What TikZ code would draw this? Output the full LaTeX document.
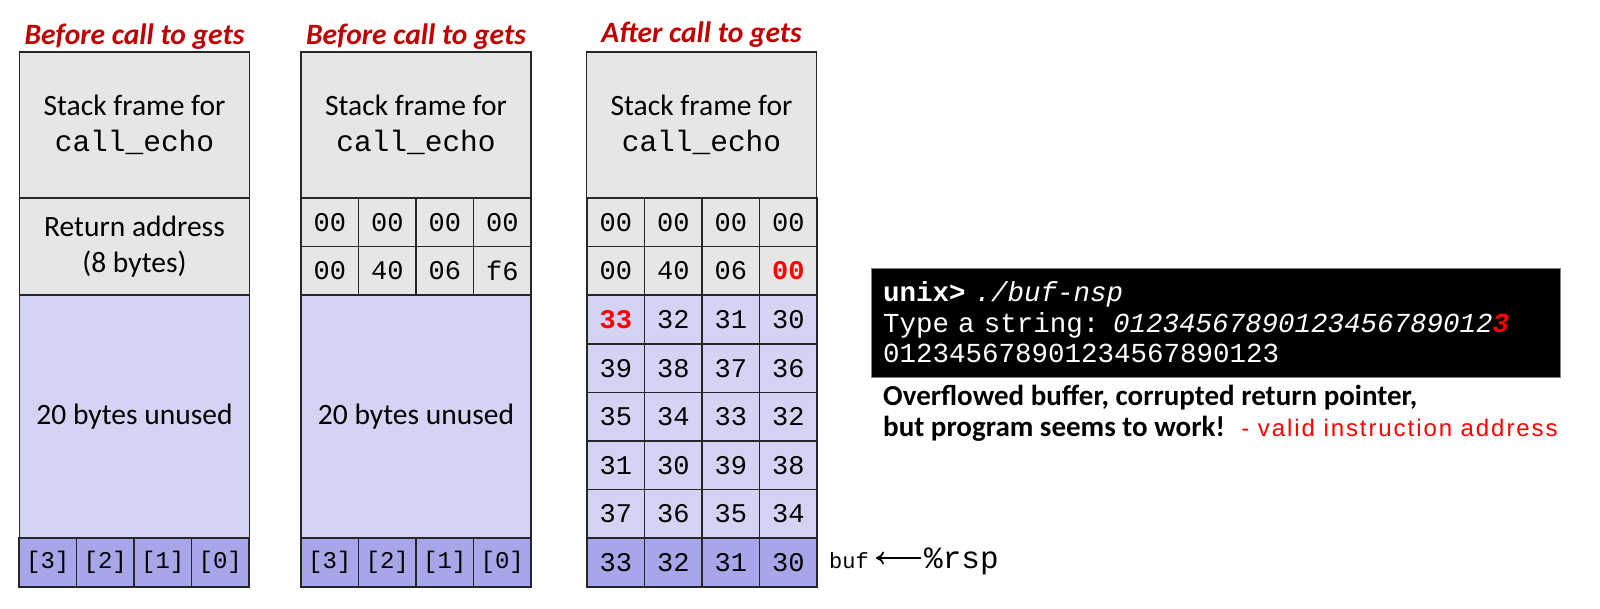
\documentclass[tikz,border=0pt]{standalone}
\usepackage{fontspec}
\setmainfont{Carlito}
\newfontfamily\codefont{Liberation Mono}
\newfontfamily\handfont[LetterSpace=8]{Liberation Sans}
\usetikzlibrary{arrows,arrows.meta,positioning}

\definecolor{framegray}{RGB}{230,230,230}
\definecolor{bufblue}{RGB}{211,211,244}
\definecolor{bufdark}{RGB}{166,166,232}
\definecolor{titlered}{RGB}{192,0,0}
\definecolor{hotred}{RGB}{255,0,0}
\newcommand{\hotbyte}[1]{\textcolor{hotred}{\bfseries #1}}

\begin{document}
\begin{tikzpicture}[x=1pt, y=-1pt, >={To[length=8pt,width=13pt]}]
\tikzstyle{heading}=[font=\fontsize{29.5}{34}\selectfont\bfseries\itshape, text=titlered, anchor=base, inner sep=0pt]
\tikzstyle{framebox}=[draw=black!85, line width=1.7pt, fill=framegray, minimum width=230pt, align=center, inner sep=0pt, font=\fontsize{29.5}{36}\selectfont]
\tikzstyle{unused}=[framebox, fill=bufblue, minimum height=243pt]
\tikzstyle{slot}=[draw=black!85, line width=1.7pt, minimum width=57.5pt, minimum height=48.6pt, inner sep=0pt, font=\codefont\fontsize{27}{30}\selectfont]
\tikzstyle{indexslot}=[slot, fill=bufdark, font=\codefont\fontsize{24}{26}\selectfont]
\tikzstyle{terminal}=[fill=black, draw=gray, line width=1pt, text=white, font=\codefont\fontsize{27.5}{30.5}\selectfont, align=left, text width=665pt, minimum height=109pt, inner sep=12pt]
\tikzstyle{remark}=[font=\fontsize{29}{31}\selectfont\bfseries, anchor=base west, inner sep=0pt]
\tikzstyle{handnote}=[font=\handfont\fontsize{24}{26}\selectfont, text=hotred, inner sep=0pt]
\useasboundingbox (0,0) rectangle (1600,608);

% before gets: plain frame
\node[heading] (head1) at (134.5,44) {Before call to gets};
\node[framebox, minimum height=146pt] (frame1) at (134.5,125) {Stack frame for\\{\codefont call\_echo}};
\node[framebox, minimum height=97.2pt] (ret1) at (134.5,246.6) {Return address\\(8 bytes)};
\node[unused] (free1) at (134.5,416.7) {20 bytes unused};
\foreach \i/\t in {0/3,1/2,2/1,3/0}
  \node[indexslot] (buf1\i) at ({19+28.75+57.5*\i},562.5) {[\t]};

% before gets: return address bytes
\node[heading] (head2) at (416,44) {Before call to gets};
\node[framebox, minimum height=146pt] (frame2) at (416,125) {Stack frame for\\{\codefont call\_echo}};
\foreach \r/\vals in {0/{00,00,00,00}, 1/{00,40,06,f6}}
  \foreach \v [count=\c from 0] in \vals
    \node[slot, fill=framegray] (ret2\r\c) at ({301+28.75+57.5*\c},{222.3+48.6*\r}) {\v};
\node[unused] (free2) at (416,416.7) {20 bytes unused};
\foreach \i/\t in {0/3,1/2,2/1,3/0}
  \node[indexslot] (buf2\i) at ({301+28.75+57.5*\i},562.5) {[\t]};

% after gets
\node[heading] (head3) at (701.5,42) {After call to gets};
\node[framebox, minimum height=146pt] (frame3) at (701.5,125) {Stack frame for\\{\codefont call\_echo}};
\foreach \r/\shade/\vals in {
    0/framegray/{00,00,00,00},
    1/framegray/{00,40,06,\hotbyte{00}},
    2/bufblue/{\hotbyte{33},32,31,30},
    3/bufblue/{39,38,37,36},
    4/bufblue/{35,34,33,32},
    5/bufblue/{31,30,39,38},
    6/bufblue/{37,36,35,34},
    7/bufdark/{33,32,31,30}}
  \foreach \v [count=\c from 0] in \vals
    \node[slot, fill=\shade] (byte3\r\c) at ({587+28.75+57.5*\c},{222.3+48.6*\r}) {\v};

% stack pointer
\node[anchor=base west, inner sep=0pt, font=\codefont\fontsize{22}{24}\selectfont] (buf) at (829,568) {buf};
\node[anchor=base west, inner sep=0pt, font=\codefont\fontsize{31}{34}\selectfont] (rsp) at (924,568) {\%rsp};
\draw[<-, line width=1.8pt] ([shift={(7pt,10pt)}]buf.base east) -- ([shift={(-3pt,10pt)}]rsp.base west);

% terminal session
\node[terminal] (shell) at (1215.5,322.5) {{\bfseries unix>} {\itshape ./buf-nsp}\\
  Type a string: {\itshape 01234567890123456789012\hotbyte{3}}\\
  012345678901234567890123};
\node[remark] (over) at (883,405) {Overflowed buffer, corrupted return pointer,};
\node[remark] (work) at (883,436) {but program seems to work!};
\node[handnote, right=16pt of work] (valid) {- valid instruction address};
\end{tikzpicture}
\end{document}
